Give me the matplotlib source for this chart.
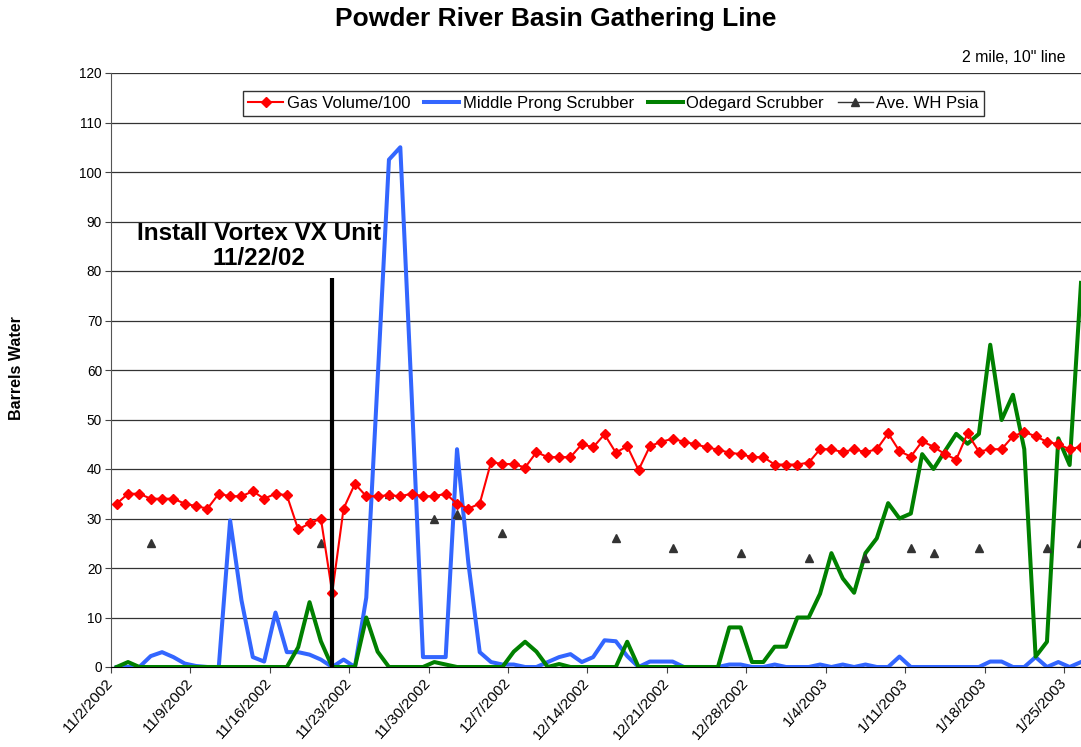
import numpy as np
import pandas as pd
import matplotlib
matplotlib.use('Agg')
import matplotlib.pyplot as plt

plt.rcParams['font.family'] = ['Liberation Sans', 'DejaVu Sans']

# daily readings, 11/2/2002 .. 1/26/2003 (Excel puts each day mid-slot)
days = pd.date_range('2002-11-02', periods=86, freq='D') + pd.Timedelta(hours=12)

gas = [33.0, 35.0, 35.0, 34.0, 34.0, 34.0, 33.0, 32.5, 32.0, 35.0, 34.5, 34.5, 35.5, 34.0, 35.0, 34.7, 27.8,
       29.0, 30.0, 15.0, 32.0, 37.0, 34.5, 34.5, 34.7, 34.5, 35.0, 34.5, 34.5, 35.0, 33.0, 32.0, 33.0, 41.4,
       41.0, 41.0, 40.3, 43.4, 42.4, 42.4, 42.4, 45.0, 44.4, 47.0, 43.3, 44.6, 39.8, 44.6, 45.5, 46.1, 45.5,
       45.0, 44.4, 43.9, 43.3, 43.0, 42.4, 42.4, 40.9, 40.9, 40.9, 41.3, 44.0, 44.0, 43.4, 44.0, 43.4, 44.0,
       47.2, 43.6, 42.5, 45.6, 44.5, 43.0, 41.9, 47.2, 43.5, 44.0, 44.0, 46.6, 47.5, 46.6, 45.5, 45.0, 44.0, 44.5]

prong = [0, 0, 0, 2.2, 3.0, 2.0, 0.7, 0.2, 0, 0, 29.6, 13.5, 2.0, 1.1, 11.0, 3.0, 3.0,
         2.5, 1.5, 0, 1.5, 0, 14.0, 58.0, 102.5, 105.0, 55.0, 2.0, 2.0, 2.0, 44.0, 21.0, 3.0, 1.0,
         0.5, 0.5, 0, 0, 1.0, 2.0, 2.6, 1.0, 2.0, 5.4, 5.2, 2.2, 0, 1.1, 1.1, 1.1, 0,
         0, 0, 0, 0.5, 0.5, 0, 0, 0.5, 0, 0, 0, 0.5, 0, 0.5, 0, 0.5, 0,
         0, 2.1, 0, 0, 0, 0, 0, 0, 0, 1.1, 1.1, 0, 0, 2.0, 0, 1.0, 0, 1.0]

odegard = [0, 1.0, 0, 0, 0, 0, 0, 0, 0, 0, 0, 0, 0, 0, 0, 0, 4.0,
           13.1, 5.2, 0, 0, 0, 10.0, 3.1, 0, 0, 0, 0, 1.0, 0.5, 0, 0, 0, 0,
           0, 3.1, 5.1, 3.1, 0, 0.6, 0, 0, 0, 0, 0, 5.1, 0, 0, 0, 0, 0,
           0, 0, 0, 8.0, 8.0, 1.0, 1.0, 4.1, 4.1, 10.0, 10.0, 14.8, 23.0, 17.9, 15.0, 23.0, 26.0,
           33.1, 30.0, 31.0, 43.0, 40.0, 43.6, 47.1, 45.1, 47.1, 65.1, 49.9, 55.0, 44.0, 2.1, 5.1, 46.2, 40.8, 77.6]

# wellhead pressure only logged on some days
psia_day = [3, 18, 24, 28, 30, 34, 44, 49, 55, 61, 66, 70, 72, 76, 82, 85]
psia_val = [25, 25, 35, 30, 31, 27, 26, 24, 23, 22, 22, 24, 23, 24, 24, 25]

psia = np.full(len(days), np.nan)
psia[psia_day] = psia_val

# marker line drawn through the low gas reading
install = pd.Timestamp('2002-11-21 12:00')
install_top = 78.5

tick_dates = pd.date_range('2002-11-02', '2003-01-25', freq='7D')
tick_labels = [f'{d.month}/{d.day}/{d.year}' for d in tick_dates]

W, H = 1081, 747
fig = plt.figure(figsize=(W / 100, H / 100), dpi=100)
ax = fig.add_axes([111 / W, 80 / H, 970 / W, 594 / H])

ax.plot(days, prong, color='#3366FF', lw=2.9, zorder=3, label='Middle Prong Scrubber')
ax.plot(days, odegard, color='#008000', lw=2.9, zorder=3, label='Odegard Scrubber')
ax.plot(days, psia, color='#333333', lw=1, marker='^', ms=6, zorder=4, label='Ave. WH Psia')
ax.plot(days, gas, color='red', lw=1.5, marker='D', ms=5, zorder=5, label='Gas Volume/100')
ax.vlines(install, 0, install_top, color='black', lw=3, zorder=6)

ax.set_ylim(0, 120)
ax.set_yticks(np.arange(0, 121, 10))
ax.set_xlim(pd.Timestamp('2002-11-02'), days[-1])
ax.set_xticks(tick_dates)
ax.set_xticklabels(tick_labels, rotation=48, ha='right', va='center', rotation_mode='anchor')
ax.tick_params(axis='both', length=4.5, direction='out', color='#444444')
ax.tick_params(axis='y', labelsize=9.8, pad=2)
ax.tick_params(axis='x', labelsize=11, pad=5)
ax.grid(axis='y', color='#333333', lw=0.9)
ax.set_axisbelow(True)
for s in ['top', 'right']:
    ax.spines[s].set_visible(False)
ax.spines['left'].set_color('#555555')
ax.spines['bottom'].set_color('black')

h, l = ax.get_legend_handles_labels()
order = [3, 0, 1, 2]
leg = ax.legend([h[i] for i in order], [l[i] for i in order], ncol=4, loc='upper center',
                bbox_to_anchor=(0.518, 0.9697), fontsize=12, frameon=True, fancybox=False,
                edgecolor='black', handlelength=2.1, columnspacing=0.85, handletextpad=0.2,
                borderpad=0.3, borderaxespad=0)
leg.get_frame().set_linewidth(1)

fig.text(556 / W, 1 - 19 / H, 'Powder River Basin Gathering Line', ha='center', va='center',
         fontsize=19, fontweight='bold')
fig.text(1065 / W, 1 - 57 / H, '2 mile, 10" line', ha='right', va='center', fontsize=11.4)
fig.text(17 / W, 1 - 368 / H, 'Barrels Water', rotation=90, ha='center', va='center',
         fontsize=11.5, fontweight='bold')
fig.text(259 / W, 1 - 246 / H, 'Install Vortex VX Unit\n11/22/02', ha='center', va='center',
         fontsize=17.5, fontweight='bold', linespacing=1.15)

plt.savefig('out.png', dpi=100)
